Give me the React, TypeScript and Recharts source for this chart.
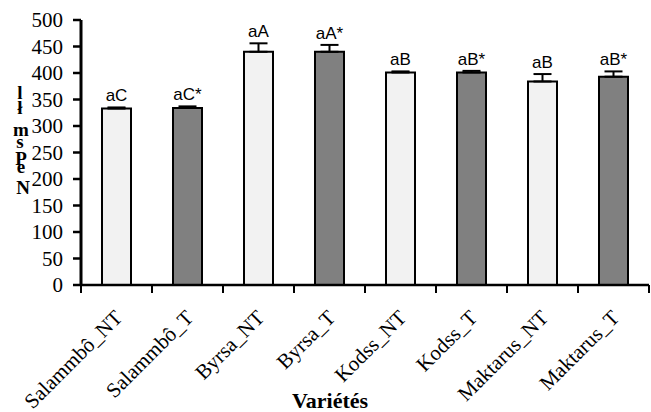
import React from 'react';
import { BarChart, Bar, XAxis, YAxis, Cell, ErrorBar, LabelList } from 'recharts';

const varieties = ['Salammbô_NT', 'Salammbô_T', 'Byrsa_NT', 'Byrsa_T', 'Kodss_NT', 'Kodss_T', 'Maktarus_NT', 'Maktarus_T'];
const means = [333, 334, 440, 440, 401, 401, 384, 393];
const errors = [2, 3, 16, 13, 2, 3, 14, 10];
const letters = ['aC', 'aC*', 'aA', 'aA*', 'aB', 'aB*', 'aB', 'aB*'];
const treated = [false, true, false, true, false, true, false, true];
const yTicks = [0, 50, 100, 150, 200, 250, 300, 350, 400, 450, 500];

const W = 651;
const H = 412;
const LEFT = 81;
const RIGHT_M = 2;
const BAND = (W - LEFT - RIGHT_M) / varieties.length;
const SERIF = "'Liberation Serif', 'Times New Roman', serif";

const data = varieties.map((v, i) => ({
    name: v,
    value: means[i],
    err: [0, errors[i]],
}));

const XTick = (props: any) => {
    const { x, y, payload, index } = props;
    const bx = x - BAND / 2;
    const tx = x + 7;
    const ty = y + 34;
    return (
        <g>
            <line x1={bx} y1={y} x2={bx} y2={y + 8} stroke="#000" strokeWidth={2} />
            {index === varieties.length - 1 && (
                <line x1={x + BAND / 2} y1={y} x2={x + BAND / 2} y2={y + 8} stroke="#000" strokeWidth={2} />
            )}
            <text
                x={tx}
                y={ty}
                transform={`rotate(-45, ${tx}, ${ty})`}
                textAnchor="end"
                style={{ fontFamily: SERIF, fontSize: 21 }}
                fill="#000"
            >
                {payload.value}
            </text>
        </g>
    );
};

const YTick = (props: any) => {
    const { x, y, payload } = props;
    return (
        <text x={x} y={y} dy={7} textAnchor="end" fontFamily={SERIF} style={{ fontFamily: SERIF, fontSize: 21 }} fill="#000">
            {payload.value}
        </text>
    );
};

const TopLabel = (props: any) => {
    const { x, y, width, height, index, value } = props;
    const errPx = value ? (height / value) * errors[index] : 0;
    return (
        <text
            x={x + width / 2}
            y={y - errPx - 6}
            textAnchor="middle"
            style={{ fontFamily: "'Liberation Sans', sans-serif", fontSize: 17 }}
            fill="#000"
        >
            {letters[index]}
        </text>
    );
};

// garbled vertical axis title, glyphs placed as they appear in the source
const yTitleGlyphs = [
    { t: 'l', x: 20, y: 99 },
    { t: 'ł', x: 20, y: 114 },
    { t: 'm', x: 21, y: 136 },
    { t: 's', x: 20, y: 148 },
    { t: 'P', x: 21, y: 165 },
    { t: 'e', x: 21, y: 173 },
    { t: 'N', x: 23, y: 194 },
];

const YTitle = () => (
    <g>
        {yTitleGlyphs.map((g, i) => (
            <text
                key={i}
                x={g.x}
                y={g.y}
                textAnchor="middle"
                fill="#000"
                fontFamily={SERIF}
                style={{ fontFamily: SERIF, fontWeight: 'bold', fontSize: 19 }}
            >
                {g.t}
            </text>
        ))}
    </g>
);

const App: React.FC = () => {
    return (
        <div style={{ position: 'absolute', left: 0, top: 0, width: W, height: H, background: '#fff' }}>
            <BarChart width={W} height={H} data={data} margin={{ top: 20, right: RIGHT_M, left: 0, bottom: 0 }}>
                <XAxis
                    dataKey="name"
                    height={127}
                    interval={0}
                    tickSize={0}
                    tickMargin={0}
                    tick={<XTick />}
                    axisLine={{ stroke: '#000', strokeWidth: 2.5 }}
                    tickLine={false}
                    label={{
                        value: 'Variétés',
                        position: 'insideBottom',
                        dx: -35,
                        offset: 4,
                        style: { fontFamily: SERIF, fontWeight: 'bold', fontSize: 22, fill: '#000' },
                    }}
                />
                <XAxis xAxisId="top" dataKey="name" orientation="top" height={0} tick={false} tickLine={false} axisLine={{ stroke: '#000', strokeWidth: 2 }} />
                <YAxis
                    width={LEFT}
                    domain={[0, 500]}
                    ticks={yTicks}
                    interval={0}
                    tickSize={8}
                    tickMargin={10}
                    axisLine={{ stroke: '#000', strokeWidth: 3 }}
                    tickLine={{ stroke: '#000', strokeWidth: 2.5 }}
                    tick={<YTick />}
                    label={{ content: () => <YTitle /> }}
                />
                <YAxis yAxisId="right" orientation="right" width={0} tick={false} tickLine={false} axisLine={{ stroke: '#000', strokeWidth: 2 }} domain={[0, 500]} />
                <Bar dataKey="value" barSize={29} stroke="#000" strokeWidth={2} isAnimationActive={false}>
                    {data.map((d, i) => (
                        <Cell key={`c-${i}`} fill={treated[i] ? '#808080' : '#f2f2f2'} />
                    ))}
                    <ErrorBar dataKey="err" width={9} stroke="#000" strokeWidth={2} direction="y" />
                    <LabelList dataKey="value" content={<TopLabel />} />
                </Bar>
            </BarChart>
        </div>
    );
};

export default App;
